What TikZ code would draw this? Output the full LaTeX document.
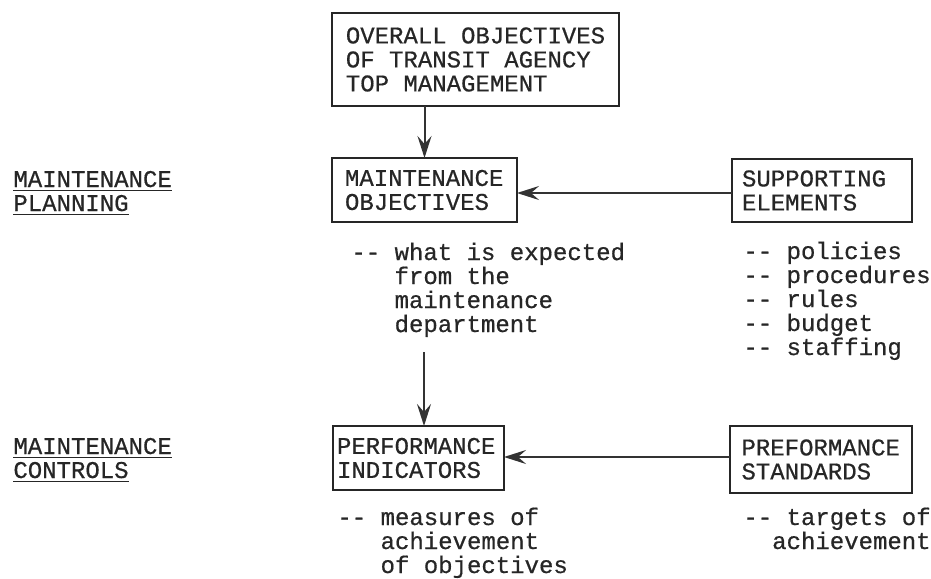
\documentclass[tikz,border=0pt]{standalone}
\usepackage{fontspec}
\newfontfamily\typewr{Liberation Mono}[FakeBold=0.6]
\usetikzlibrary{arrows.meta}

\begin{document}
\begin{tikzpicture}[
    x=0.5pt, y=-0.5pt,
    font=\typewr\fontsize{12pt}{12pt}\selectfont,
    box/.style={draw=black!85, line width=1.2pt, align=left, text=black!85,
                inner ysep=0pt, outer sep=0pt},
    desc/.style={align=left, anchor=base west, inner sep=0pt, text=black!85},
    flow/.style={draw=black!80, line width=1pt,
                 -{Stealth[length=11pt, width=7pt, inset=4pt]}},
]
\useasboundingbox (0,0) rectangle (931,578);

% Side headings (placed at the baseline of the last line)
\node[desc] (plan) at (13,211) {\underline{MAINTENANCE}\\\underline{PLANNING}};
\node[desc] (ctrl) at (13,478) {\underline{MAINTENANCE}\\\underline{CONTROLS}};

% Boxes
\node[box, inner xsep=7pt, minimum width=143.5pt, minimum height=46.5pt] (overall) at (475.5,59.5)
    {OVERALL OBJECTIVES\\OF TRANSIT AGENCY\\TOP MANAGEMENT};
\node[box, inner xsep=6.5pt, text width=79.5pt, minimum height=32pt] (mobj) at (424.5,190)
    {MAINTENANCE\\OBJECTIVES};
\node[box, inner xsep=5pt, text width=80pt, minimum height=31.5pt] (supp) at (822,190.5)
    {SUPPORTING\\ELEMENTS};
\node[box, inner xsep=2pt, text width=81.5pt, minimum height=32pt] (perfind) at (418.5,458)
    {PERFORMANCE\\INDICATORS};
\node[box, inner xsep=5.75pt, text width=79.5pt, minimum height=33.5pt] (perfstd) at (821,459.5)
    {PREFORMANCE\\STANDARDS};

% Notes under the boxes
\node[desc] (mdesc) at (351,332)
    {-{}- what is expected\\\ \ \ from the\\\ \ \ maintenance\\\ \ \ department};
\node[desc] (sdesc) at (743,355)
    {-{}- policies\\-{}- procedures\\-{}- rules\\-{}- budget\\-{}- staffing};
\node[desc] (pdesc) at (337,573)
    {-{}- measures of\\\ \ \ achievement\\\ \ \ of objectives};
\node[desc] (tdesc) at (743,549)
    {-{}- targets of\\\ \ achievement};

% Arrows
\coordinate (down) at (424,352);
\draw[flow] (overall.south -| mobj.north) -- (mobj.north);
\draw[flow] (supp.west |- 0,193) -- (mobj.east |- 0,193);
\draw[flow] (down) -- (down |- perfind.north);
\draw[flow] (perfstd.west |- 0,457) -- (perfind.east |- 0,457);
\end{tikzpicture}
\end{document}
